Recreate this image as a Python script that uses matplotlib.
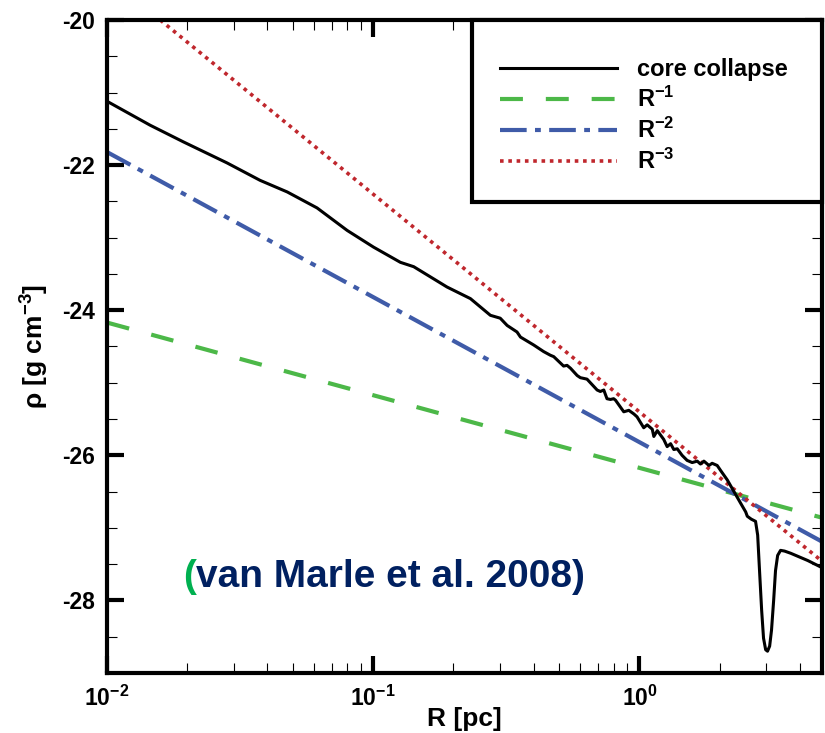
import matplotlib
matplotlib.use("Agg")
import matplotlib.pyplot as plt
from matplotlib.patches import Rectangle
from matplotlib.ticker import FixedLocator, NullFormatter, LogLocator
import numpy as np

plt.rcParams['font.family'] = ['Liberation Sans', 'DejaVu Sans']
plt.rcParams['mathtext.default'] = 'regular'
plt.rcParams['axes.unicode_minus'] = False

# core collapse density profile (log10 R [pc], log rho)
log_r = [-2.000, -1.838, -1.713, -1.549, -1.425, -1.323, -1.211, -1.098, -0.999,
         -0.898, -0.848, -0.723, -0.635, -0.560, -0.523, -0.497, -0.460, -0.447,
         -0.397, -0.360, -0.335, -0.322, -0.285, -0.272, -0.259, -0.234, -0.222,
         -0.197, -0.159, -0.147, -0.134, -0.122, -0.109, -0.097, -0.090, -0.059,
         -0.040, -0.021, -0.009, 0.016, 0.029, 0.048, 0.054, 0.067, 0.091, 0.104,
         0.117, 0.129, 0.142, 0.160, 0.179, 0.198, 0.217, 0.229, 0.242, 0.261,
         0.273, 0.292, 0.305, 0.330, 0.355, 0.380, 0.399, 0.405, 0.420, 0.436,
         0.444, 0.451, 0.459, 0.466, 0.474, 0.481, 0.489, 0.496, 0.504, 0.511,
         0.519, 0.530, 0.545, 0.568, 0.600, 0.632, 0.692]
rho = [-21.12, -21.45, -21.68, -21.97, -22.21, -22.37, -22.59, -22.90, -23.13,
       -23.34, -23.40, -23.68, -23.84, -24.07, -24.11, -24.21, -24.30, -24.37,
       -24.48, -24.57, -24.62, -24.64, -24.77, -24.76, -24.80, -24.90, -24.93,
       -24.95, -25.10, -25.12, -25.10, -25.22, -25.23, -25.22, -25.24, -25.40,
       -25.38, -25.43, -25.47, -25.62, -25.58, -25.64, -25.74, -25.66, -25.78, -25.88,
       -25.84, -25.92, -25.91, -26.00, -26.07, -26.10, -26.08, -26.12, -26.08, -26.14,
       -26.11, -26.14, -26.21, -26.34, -26.50, -26.66, -26.78, -26.84, -26.88, -26.91,
       -27.10, -27.59, -28.14, -28.52, -28.68, -28.70, -28.63, -28.41, -28.00, -27.59,
       -27.38, -27.31, -27.32, -27.35, -27.40, -27.45, -27.56]

# reference power laws, end points
r_ends = [0.01, 4.85]
rho_r1 = [-24.17, -26.86]
rho_r2 = [-21.82, -27.19]
rho_r3 = [-19.40, -27.46]

r = 10 ** np.array(log_r)

fig = plt.figure(figsize=(8.25, 7.33), dpi=100)
ax = fig.add_axes([0.1297, 0.0819, 0.8667, 0.8908])

ax.plot(r, rho, color='black', lw=2.2, label='core collapse', zorder=5)
ax.plot(r_ends, rho_r1, color='#4cb848', lw=3, dashes=(5.5, 5.5), label='R$^{-1}$')
ax.plot(r_ends, rho_r2, color='#3f5ba8', lw=3, dashes=(6.4, 2.0, 1.4, 2.0), label='R$^{-2}$')
ax.plot(r_ends, rho_r3, color='#c0272d', lw=2.6, dashes=(1.0, 1.3), label='R$^{-3}$')

ax.set_xscale('log')
ax.set_xlim(0.01, 4.85)
ax.set_ylim(-29, -20)

ax.xaxis.set_minor_locator(LogLocator(base=10, subs=np.arange(2, 10), numticks=10))
ax.xaxis.set_minor_formatter(NullFormatter())
ax.set_xticks([0.01, 0.1, 1])
ax.set_xticklabels(['10$^{-2}$', '10$^{-1}$', '10$^{0}$'])
ax.set_yticks([-28, -26, -24, -22, -20])
ax.yaxis.set_minor_locator(FixedLocator(np.arange(-29, -19.9, 0.5)))

ax.tick_params(which='both', direction='in', top=True, right=True)
ax.tick_params(which='major', length=12, width=3, labelsize=16.5, pad=9)
ax.tick_params(which='minor', length=7, width=0.8)
for lab in ax.get_xticklabels() + ax.get_yticklabels():
    lab.set_fontweight('bold')
for s in ax.spines.values():
    s.set_linewidth(3)

ax.set_xlabel('R [pc]', fontsize=19, fontweight='bold', labelpad=-3)
ax.set_ylabel(r'$\rho$ [g cm$^{-3}$]', fontsize=19, fontweight='bold', labelpad=8)

# legend box with thick frame, drawn separately
frame = Rectangle((0.5105, 0.7213), 0.4895, 0.2787, transform=ax.transAxes,
                  facecolor='white', edgecolor='black', lw=3, zorder=9, clip_on=False)
ax.add_patch(frame)
leg = ax.legend(loc='upper left', bbox_to_anchor=(0.5497, 0.942), borderaxespad=0,
                borderpad=0, frameon=False, handlelength=4.94, handletextpad=0.88,
                labelspacing=0.25, prop={'size': 17, 'weight': 'bold'})
leg.set_zorder(10)

ax.text(0.106, 0.1317, '(', transform=ax.transAxes, color='#00b050', fontsize=28,
        fontweight='bold', va='baseline', ha='left',
        family=['Liberation Sans Narrow', 'Liberation Sans'])
ax.text(0.1245, 0.1317, 'van Marle et al. 2008)', transform=ax.transAxes, color='#002060',
        fontsize=28, fontweight='bold', va='baseline', ha='left',
        family=['Liberation Sans Narrow', 'Liberation Sans'])

fig.savefig('out.png', dpi=100)
